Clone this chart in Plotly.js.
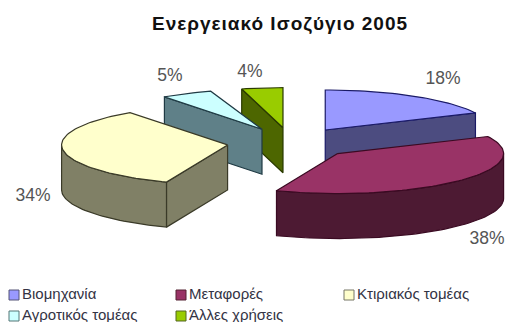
<!DOCTYPE html>
<html>
<head>
<meta charset="utf-8">
<script src="https://cdn.plot.ly/plotly-3.0.0.min.js"></script>
<style>
html,body{margin:0;padding:0;background:#fff}
#chart{width:505px;height:322px}
.gtitle{letter-spacing:1px}
</style>
</head>
<body>
<div id="chart"></div>
<script>
// Energy balance 2005: shares by sector
const categories = ['Βιομηχανία', 'Μεταφορές', 'Κτιριακός τομέας', 'Αγροτικός τομέας', 'Άλλες χρήσεις'];
const shares = [18, 38, 34, 5, 4];
const topColors = ['#9999FF', '#993366', '#FFFFCC', '#CCFFFF', '#99CC00'];
const wallColors = ['#4C4C80', '#4D1A33', '#808066', '#5F8088', '#4D6600'];
const edgeColors = ['#1A1A66', '#3A0A22', '#3A3A28', '#1F3A44', '#2A3A00'];
const edgeLegend = ['#555577', '#552233', '#777766', '#557777', '#556622'];

// Projection of the tilted pie onto the page
const pie = {cx: 291, cy: 143, rx: 166, ry: 40, depth: 45, explode: 0.385};
const labelSpots = [[443, 80], [487, 240], [33, 197], [170, 77], [250, 73]];
const legendSpots = [[14, 295], [181, 295], [349, 295], [14, 316], [181, 316]];
// Back-to-front painting order
const paintOrder = [4, 3, 0, 2, 1];

// Percentages laid clockwise from 12 o'clock; the rounded shares fall short
// of 100, so the last slice is anchored to close the circle
const TURN = 2 * Math.PI;
const slices = [];
let run = 0;
shares.forEach((v, i) => {
  let start = run / 100 * TURN;
  let end = (run + v) / 100 * TURN;
  if (i === shares.length - 1) {
    start = TURN - v / 100 * TURN;
    end = TURN;
  }
  run += v;
  const mid = (start + end) / 2;
  slices.push({
    start, end,
    ax: pie.cx + pie.explode * pie.rx * Math.sin(mid),
    ay: pie.cy - pie.explode * pie.ry * Math.cos(mid)
  });
});

function rim(s, t) {
  return [s.ax + pie.rx * Math.sin(t), s.ay - pie.ry * Math.cos(t)];
}
function arc(s, a, b) {
  const pts = [];
  const n = Math.max(2, Math.ceil(Math.abs(b - a) / 0.03));
  for (let i = 0; i <= n; i++) pts.push(rim(s, a + (b - a) * i / n));
  return pts;
}
function polygon(pts, fill, edge) {
  const closed = pts.concat([pts[0]]);
  return {
    type: 'scatter', mode: 'lines', fill: 'toself', fillcolor: fill,
    x: closed.map(p => p[0]), y: closed.map(p => p[1]),
    line: {color: edge, width: 1.2, shape: 'linear'},
    hoverinfo: 'skip', showlegend: false
  };
}
function wall(top, fill, edge) {
  const bottom = top.slice().reverse().map(p => [p[0], p[1] + pie.depth]);
  return polygon(top.concat(bottom), fill, edge);
}

const traces = [];
const RIGHT = Math.PI / 2, LEFT = 3 * Math.PI / 2;
paintOrder.forEach(i => {
  const s = slices[i];
  const apex = [s.ax, s.ay];
  // Radial side faces that turn towards the viewer
  if (s.start > Math.PI && s.start < TURN) {
    traces.push(wall([apex, rim(s, s.start)], wallColors[i], edgeColors[i]));
  }
  if (s.end > 0 && s.end < Math.PI) {
    traces.push(wall([apex, rim(s, s.end)], wallColors[i], edgeColors[i]));
  }
  // Outer rim between the left and right extremes of the ellipse
  const a = Math.max(s.start, RIGHT), b = Math.min(s.end, LEFT);
  if (b > a) traces.push(wall(arc(s, a, b), wallColors[i], edgeColors[i]));
  // Top face
  traces.push(polygon([apex].concat(arc(s, s.start, s.end)), topColors[i], edgeColors[i]));
});

// Percentage labels
traces.push({
  type: 'scatter', mode: 'text',
  x: labelSpots.map(p => p[0]), y: labelSpots.map(p => p[1]),
  text: shares.map(v => v + '%'),
  textposition: 'middle center',
  textfont: {family: 'Liberation Sans, Arial, sans-serif', size: 17.5, color: '#555555'},
  hoverinfo: 'skip', showlegend: false
});

// Legend keys and their names
traces.push({
  type: 'scatter', mode: 'markers',
  x: legendSpots.map(p => p[0]), y: legendSpots.map(p => p[1]),
  marker: {symbol: 'square', size: 10, color: topColors, line: {color: edgeLegend, width: 1}},
  hoverinfo: 'skip', showlegend: false, cliponaxis: false
});
traces.push({
  type: 'scatter', mode: 'text',
  x: legendSpots.map(p => p[0] + 8), y: legendSpots.map(p => p[1]),
  text: categories, textposition: 'middle right',
  textfont: {family: 'Liberation Sans, Arial, sans-serif', size: 15, color: '#333344'},
  hoverinfo: 'skip', showlegend: false, cliponaxis: false
});

const hidden = {visible: false, fixedrange: true};
Plotly.newPlot('chart', traces, {
  width: 505, height: 322,
  margin: {l: 0, r: 0, t: 0, b: 0},
  paper_bgcolor: '#fff', plot_bgcolor: '#fff',
  showlegend: false,
  title: {
    text: 'Ενεργειακό Ισοζύγιο 2005',
    font: {family: 'Liberation Sans, Arial, sans-serif', size: 19, color: '#111111', weight: 700},
    x: 280 / 505, xanchor: 'center', y: 1 - 23 / 322, yanchor: 'middle'
  },
  xaxis: Object.assign({range: [0, 505]}, hidden),
  yaxis: Object.assign({range: [322, 0]}, hidden)
}, {displayModeBar: false, staticPlot: true});
</script>
</body>
</html>
